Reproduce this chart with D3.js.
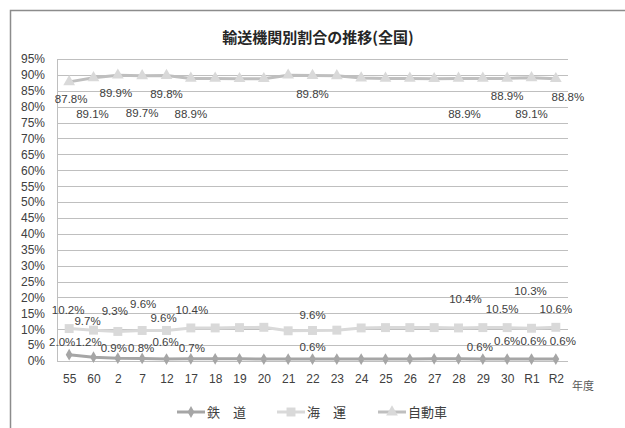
<!DOCTYPE html>
<html>
<head>
<meta charset="utf-8">
<script src="https://cdn.jsdelivr.net/npm/d3@7"></script>
<style>
  html, body { margin: 0; padding: 0; background: #fff; }
  svg { display: block; }
  text { font-family: "Liberation Sans", Arial, sans-serif; fill: #404040; }
  .jp { font-family: "Noto Sans CJK JP", sans-serif; }
</style>
</head>
<body>
<svg id="chart" width="625" height="428"></svg>
<script>
// 年度
const years = ["55","60","2","7","12","17","18","19","20","21","22","23","24","25","26","27","28","29","30","R1","R2"];
// 輸送機関別割合 (%)
const rail  = [2.0, 1.2, 0.9, 0.8, 0.6, 0.7, 0.7, 0.7, 0.6, 0.6, 0.6, 0.6, 0.6, 0.6, 0.6, 0.7, 0.7, 0.6, 0.6, 0.6, 0.6];
const ship  = [10.2, 9.7, 9.3, 9.6, 9.6, 10.4, 10.4, 10.5, 10.6, 9.5, 9.6, 9.7, 10.4, 10.5, 10.5, 10.5, 10.4, 10.5, 10.5, 10.3, 10.6];
const truck = [87.8, 89.1, 89.9, 89.7, 89.8, 88.9, 88.9, 88.8, 88.8, 89.9, 89.8, 89.7, 89.0, 88.9, 88.9, 88.8, 88.9, 88.9, 88.9, 89.1, 88.8];
const yTicks = d3.range(0, 100, 5);

// which points carry a value label
const railLabeled  = ["55","60","2","7","12","17","22","29","30","R1","R2"];
const shipLabeled  = ["55","60","2","7","12","17","22","28","30","R1","R2"];
const truckLabeled = ["55","60","2","7","12","17","22","28","30","R1","R2"];

// label placement offsets (dx, dy from the marker)
const railOff  = {"55":[-7,-13],"60":[-5,-15],"2":[-4,-10],"7":[-1,-10],"12":[-1,-17],"17":[1,-11],"22":[0,-12],"29":[-3,-12],"30":[0,-18],"R1":[2,-18],"R2":[7,-18]};
const shipOff  = {"55":[-1,-19],"60":[-6,-9],"2":[-3,-20],"7":[1,-27],"12":[-3,-13],"17":[1,-18],"22":[0,-16],"28":[7,-29],"30":[-5,-19],"R1":[-1,-37],"R2":[0,-18]};
const truckOff = {"55":[2,17],"60":[-1,36],"2":[-2,18],"7":[0,37],"12":[0,18],"17":[0,36],"22":[0,18],"28":[6,36],"30":[0,18],"R1":[0,36],"R2":[12,18]};

const svg = d3.select("#chart");

// outer frame
svg.append("rect").attr("x", 10.5).attr("y", 10.5).attr("width", 640).attr("height", 440)
  .attr("fill", "none").attr("stroke", "#8c8c8c").attr("stroke-width", 1.5);

const plotL = 57, plotR = 568, plotT = 59, plotB = 361;

const x = d3.scalePoint().domain(years).range([plotL, plotR]).padding(0.5);
const y = d3.scaleLinear().domain([0, 95]).range([plotB, plotT]);

// title
svg.append("text").attr("class", "jp").attr("x", 318).attr("y", 43)
  .attr("text-anchor", "middle").attr("font-size", 15).attr("font-weight", "bold")
  .style("fill", "#262626").text("輸送機関別割合の推移(全国)");

// gridlines
svg.append("g").selectAll("line").data(yTicks.filter(d => d > 0)).join("line")
  .attr("x1", plotL).attr("x2", plotR)
  .attr("y1", d => Math.round(y(d)) + 0.5).attr("y2", d => Math.round(y(d)) + 0.5)
  .attr("stroke", "#bfbfbf").attr("stroke-width", 1);

// y axis
const yAxis = d3.axisLeft(y).tickValues(yTicks).tickSize(0).tickPadding(0)
  .tickFormat(d => d + "%");
const gy = svg.append("g").attr("transform", `translate(${plotL - 12},0)`).call(yAxis);
gy.select(".domain").remove();
gy.selectAll("text").attr("font-size", 12).style("font-family", "Liberation Sans, Arial, sans-serif").style("fill", "#404040");

// axis lines
svg.append("line").attr("x1", plotL + 0.5).attr("x2", plotL + 0.5).attr("y1", plotT).attr("y2", plotB)
  .attr("stroke", "#bfbfbf");
svg.append("line").attr("x1", plotL).attr("x2", plotR).attr("y1", plotB + 0.5).attr("y2", plotB + 0.5)
  .attr("stroke", "#bfbfbf");

// x axis
const xAxis = d3.axisBottom(x).tickSize(0).tickPadding(0);
const gx = svg.append("g").attr("transform", `translate(0,${plotB + 11})`).call(xAxis);
gx.select(".domain").remove();
gx.selectAll("text").attr("font-size", 12).attr("dy", "0.9em")
  .style("font-family", "Liberation Sans, Arial, sans-serif").style("fill", "#404040");

svg.append("text").attr("class", "jp").attr("x", 583).attr("y", 390)
  .attr("text-anchor", "middle").attr("font-size", 11).style("fill", "#595959").text("年度");

const line = d3.line().x((d, i) => x(years[i])).y(d => y(d));

const sym = {
  diamond: d3.symbol().type(d3.symbolDiamond).size(40),
  square: d3.symbol().type(d3.symbolSquare).size(80),
  triangle: d3.symbol().type(d3.symbolTriangle).size(60)
};

const series = [
  { name: "鉄　道", values: rail, stroke: "#a6a6a6", fill: "#a6a6a6", marker: "diamond", labeled: railLabeled, off: railOff },
  { name: "海　運", values: ship, stroke: "#d9d9d9", fill: "#d9d9d9", marker: "square", labeled: shipLabeled, off: shipOff },
  { name: "自動車", values: truck, stroke: "#bfbfbf", fill: "#d9d9d9", marker: "triangle", labeled: truckLabeled, off: truckOff }
];

series.forEach(s => {
  const g = svg.append("g");
  g.append("path").datum(s.values).attr("d", line)
    .attr("fill", "none").attr("stroke", s.stroke).attr("stroke-width", 3).attr("stroke-linejoin", "round");
  g.selectAll("path.m").data(s.values).join("path").attr("class", "m")
    .attr("d", sym[s.marker])
    .attr("transform", (d, i) => `translate(${x(years[i])},${y(d)})`)
    .attr("fill", s.fill);
  const lab = s.values.map((v, i) => ({ v, k: years[i] })).filter(d => s.labeled.includes(d.k));
  g.selectAll("text").data(lab).join("text")
    .attr("x", d => x(d.k) + s.off[d.k][0])
    .attr("y", d => y(d.v) + s.off[d.k][1])
    .attr("dy", "0.35em").attr("text-anchor", "middle").attr("font-size", 11.5)
    .text(d => d.v.toFixed(1) + "%");
});

// legend
const legX = [177, 277, 378];
const lg = svg.append("g");
series.forEach((s, i) => {
  const gx0 = legX[i], gy0 = 412;
  lg.append("line").attr("x1", gx0).attr("x2", gx0 + 28).attr("y1", gy0).attr("y2", gy0)
    .attr("stroke", s.stroke).attr("stroke-width", 3);
  lg.append("path").attr("d", sym[s.marker]).attr("fill", s.fill)
    .attr("transform", `translate(${gx0 + 14},${gy0})`);
  lg.append("text").attr("class", "jp").attr("x", gx0 + 30).attr("y", gy0).attr("dy", "0.35em")
    .attr("font-size", 13).style("fill", "#404040").text(s.name);
});
</script>
</body>
</html>
